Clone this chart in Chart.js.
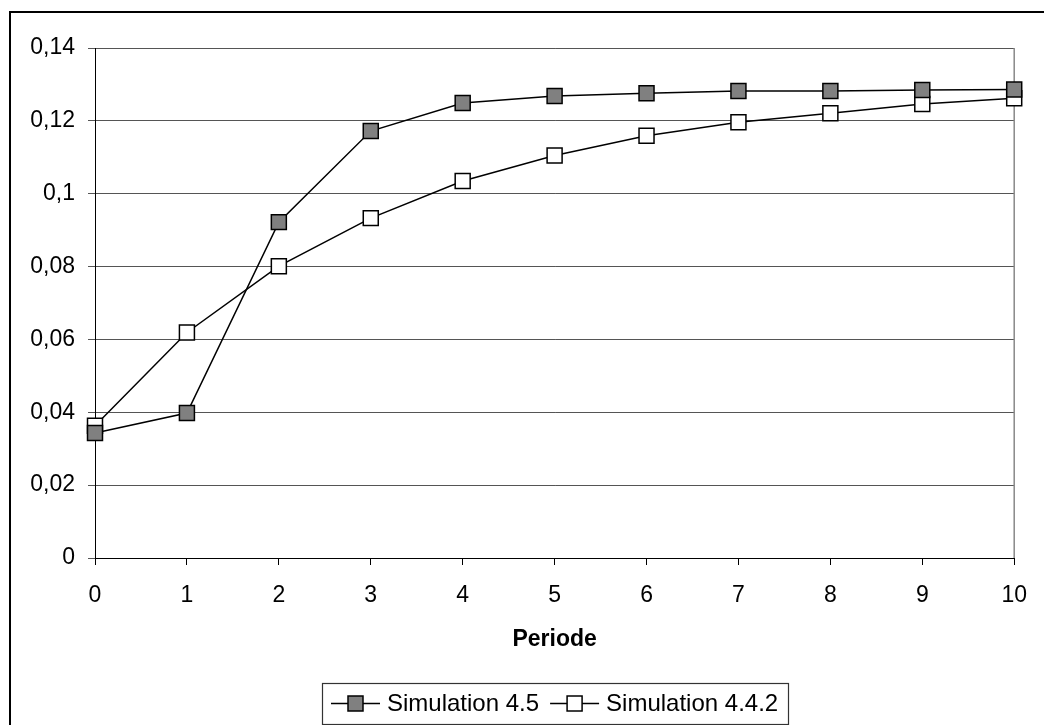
<!DOCTYPE html>
<html>
<head>
<meta charset="utf-8">
<script src="https://cdn.jsdelivr.net/npm/chart.js@4"></script>
<style>
html, body { margin:0; padding:0; background:#fff; }
</style>
</head>
<body>
<canvas id="simChart" width="1044" height="725"></canvas>
<script>
const periods = ['0', '1', '2', '3', '4', '5', '6', '7', '8', '9', '10'];
const sim45 = [0.0343, 0.0398, 0.0922, 0.1172, 0.1249, 0.1268, 0.1276, 0.1282, 0.1282, 0.1285, 0.1286];
const sim442 = [0.0363, 0.0619, 0.0801, 0.0933, 0.1035, 0.1105, 0.1159, 0.1196, 0.1221, 0.1246, 0.1262];
const yTickLabels = ['0', '0,02', '0,04', '0,06', '0,08', '0,1', '0,12', '0,14'];

const FONT = "'Liberation Sans', Arial, sans-serif";
const FSIZE = 23;

// frame, plot border and an Excel-like legend (line + square marker, boxed)
const frame = {
    id: 'frame',
    beforeDraw(chart) {
        let g = chart.ctx;
        g.save();
        g.fillStyle = '#fff';
        g.fillRect(0, 0, chart.width, chart.height);
        g.restore();
    },
    beforeDatasetsDraw(chart) {
        let a = chart.chartArea, g = chart.ctx;
        g.save();
        g.strokeStyle = '#888';
        g.lineWidth = 1.5;
        g.beginPath();
        g.moveTo(a.right, a.top);
        g.lineTo(a.right, a.bottom);
        g.stroke();
        g.restore();
    },
    afterDraw(chart) {
        let g = chart.ctx, a = chart.chartArea;
        g.save();
        g.strokeStyle = '#000';
        g.lineWidth = 2;
        g.strokeRect(10, 12, 1100, 800);

        g.font = '24px ' + FONT;
        let sets = chart.data.datasets;
        let widths = sets.map(ds => g.measureText(ds.label).width);
        let total = 9 + 10 + widths.reduce((s, w) => s + 56 + w, 0) + 11 * (sets.length - 1);
        let left = Math.round((a.left + a.right) / 2 - total / 2);
        let top = 683, h = 41, cy = top + h / 2;

        g.lineWidth = 1.2;
        g.strokeStyle = '#333';
        g.strokeRect(left + 0.5, top + 0.5, Math.round(total), h);

        let x = left + 9;
        sets.forEach((ds, i) => {
            g.strokeStyle = '#000';
            g.lineWidth = 1.5;
            g.beginPath();
            g.moveTo(x, cy); g.lineTo(x + 49, cy);
            g.stroke();
            g.fillStyle = ds.pointBackgroundColor;
            g.fillRect(x + 17, cy - 7.5, 15, 15);
            g.strokeRect(x + 17, cy - 7.5, 15, 15);
            g.fillStyle = '#000';
            g.textBaseline = 'middle';
            g.fillText(ds.label, x + 56, cy + 1);
            x += 56 + widths[i] + 11;
        });
        g.restore();
    }
};

new Chart(document.getElementById('simChart'), {
    type: 'line',
    plugins: [frame],
    data: {
        labels: periods,
        datasets: [{
            label: 'Simulation 4.5',
            data: sim45,
            borderColor: '#000',
            borderWidth: 1.5,
            backgroundColor: '#808080',
            pointStyle: 'rect',
            pointRadius: 10.6,
            pointBorderWidth: 1.5,
            pointBorderColor: '#000',
            pointBackgroundColor: '#808080',
            clip: false,
            tension: 0
        }, {
            label: 'Simulation 4.4.2',
            data: sim442,
            borderColor: '#000',
            borderWidth: 1.5,
            backgroundColor: '#fff',
            pointStyle: 'rect',
            pointRadius: 10.6,
            pointBorderWidth: 1.5,
            pointBorderColor: '#000',
            pointBackgroundColor: '#fff',
            clip: false,
            tension: 0
        }]
    },
    options: {
        responsive: false,
        animation: false,
        devicePixelRatio: 1,
        layout: { padding: { top: 48, right: 26, left: 0, bottom: 43 } },
        plugins: {
            tooltip: { enabled: false },
            legend: { display: false }
        },
        scales: {
            x: {
                offset: false,
                grid: { drawOnChartArea: false, drawTicks: true, tickLength: 7, color: '#000' },
                border: { color: '#000', width: 1 },
                ticks: { color: '#000', font: { family: FONT, size: FSIZE }, padding: 17, maxRotation: 0 },
                title: {
                    display: true,
                    text: 'Periode',
                    color: '#000',
                    font: { family: FONT, size: FSIZE, weight: 'bold' },
                    padding: { top: 10, bottom: 29 }
                },
                afterFit(scale) { scale.height = 124; }
            },
            y: {
                min: 0,
                max: 0.14,
                grid: { color: '#555', tickLength: 7, lineWidth: 1 },
                border: { color: '#000', width: 1 },
                ticks: {
                    stepSize: 0.02,
                    color: '#000',
                    font: { family: FONT, size: FSIZE },
                    padding: 13,
                    callback: (v, i) => yTickLabels[i]
                },
                afterFit(scale) { scale.width = 95; }
            }
        }
    }
});
</script>
</body>
</html>
